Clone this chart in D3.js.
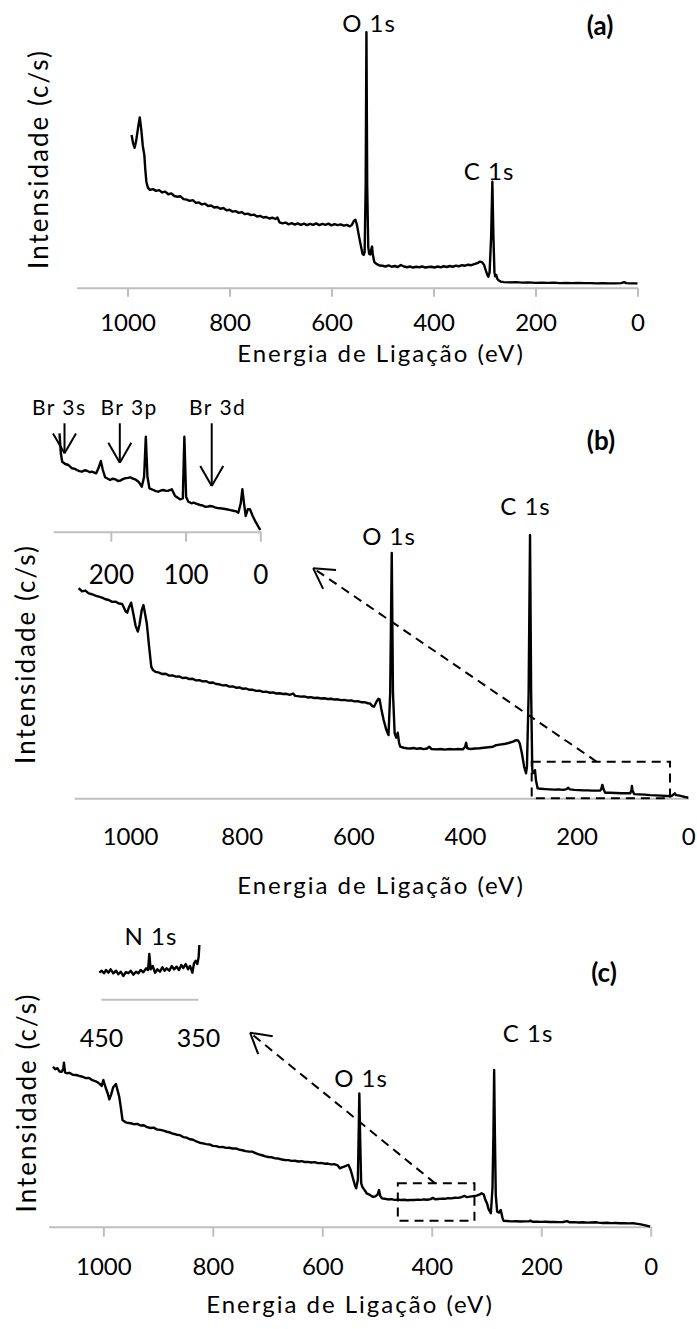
<!DOCTYPE html>
<html>
<head>
<meta charset="utf-8">
<script src="https://cdn.jsdelivr.net/npm/d3@7"></script>
<style>
  body { margin: 0; background: #fff; }
  svg { display: block; font-family: Lato, "Open Sans", sans-serif; }
</style>
</head>
<body>
<svg id="chart" width="697" height="1329"></svg>
<script>
// ---- data (binding energy eV, intensity in arbitrary c/s units) ----
const xTicks = [1000, 800, 600, 400, 200, 0];
const insetTicksB = [200, 100, 0];
const insetTicksC = [450, 350];

const spectrumA = [
  [992, 59.8], [989, 56.5], [986, 54.8], [983, 57.5], [979, 63], [976, 66.7], [973, 62], [970, 55.5],
  [967, 52], [965, 46], [963, 41.5], [960, 39.2], [956, 38.3], [950, 38.6], [944, 37.9], [938, 38.2],
  [932, 37.3], [926, 37.6], [920, 36.6], [914, 36.9], [908, 35.9], [902, 35.6], [896, 35.8], [890, 34.7],
  [884, 34.5], [878, 34.0], [872, 34.3], [866, 33.2], [860, 33.4], [854, 32.6], [848, 32.9], [842, 32.0],
  [836, 32.2], [830, 31.4], [824, 31.6], [818, 30.9], [812, 31.2], [806, 30.3], [800, 30.5], [794, 29.8],
  [788, 30.0], [782, 29.3], [776, 29.6], [770, 28.8], [764, 29.0], [758, 28.4], [752, 28.6], [746, 27.9],
  [740, 28.1], [734, 27.5], [728, 27.7], [722, 27.1], [716, 27.4], [710, 26.9], [706, 27.5], [702, 25.6],
  [696, 25.2], [690, 25.5], [684, 24.8], [678, 25.3], [672, 24.7], [666, 25.2], [660, 24.6], [654, 25.1],
  [648, 24.5], [642, 25.0], [636, 24.6], [630, 25.2], [624, 24.5], [618, 25.0], [612, 24.6], [606, 25.1],
  [600, 24.4], [594, 24.9], [588, 24.5], [582, 24.8], [576, 24.3], [570, 24.6], [564, 24.0], [560, 24.6],
  [556, 26.2], [553, 26.6], [550, 24.5], [546, 20], [542, 16], [539, 13.2], [537, 12.8], [535, 14],
  [533, 40], [531.5, 100], [530, 40], [528, 16], [526, 13.2], [524, 13], [522, 15], [520.5, 16.1],
  [519, 13], [516, 10], [512, 9.3], [506, 8.7], [500, 8.6], [494, 8.3], [488, 8.7], [482, 8.2],
  [476, 8.5], [470, 8.1], [464, 8.9], [458, 8.3], [452, 8.0], [446, 8.3], [440, 7.9], [434, 8.2],
  [428, 8.0], [422, 8.3], [416, 7.9], [410, 8.1], [404, 8.2], [398, 7.9], [392, 8.3], [386, 8.0],
  [380, 8.4], [374, 8.1], [368, 8.5], [362, 8.2], [356, 8.6], [350, 8.4], [344, 8.8], [338, 8.6],
  [332, 9.0], [326, 8.8], [320, 9.2], [314, 9.6], [309, 10.2], [305, 10.0], [301, 9.0], [297, 6.5],
  [294, 4.8], [292.5, 4.3], [290, 6], [287, 20], [284.6, 41.5], [282.5, 20], [280.5, 6], [279, 4.5],
  [277, 5.0], [275, 3.5], [272, 2.8], [268, 2.4], [262, 2.2], [250, 2.1], [238, 2.2], [226, 2.0],
  [214, 2.1], [200, 1.9], [188, 2.0], [176, 1.9], [164, 2.0], [152, 1.8], [140, 1.9], [128, 1.8],
  [116, 1.9], [104, 1.8], [92, 1.8], [80, 1.7], [68, 1.8], [56, 1.7], [44, 1.7], [32, 1.8],
  [26, 2.2], [22, 1.8], [12, 1.7], [2, 1.7], [0, 1.6]
];

const spectrumB = [
  [1092, 79.8], [1086, 78.6], [1080, 78.9], [1074, 77.8], [1068, 77.5], [1062, 77.0], [1056, 76.6], [1050, 76.2],
  [1044, 75.6], [1038, 75.3], [1032, 74.6], [1026, 74.7], [1020, 74.0], [1014, 73.8], [1008, 71.0], [1005, 70.5],
  [1002, 72.5], [998, 74.3], [994, 70], [990, 65.5], [986, 63.3], [983, 66], [979, 71.5], [976, 73.4],
  [973, 70], [970, 66.5], [966, 58], [962, 50], [959, 48.7], [954, 48.0], [948, 47.7], [942, 47.2],
  [936, 47.3], [930, 46.6], [924, 46.7], [918, 46.2], [912, 46.3], [906, 45.7], [900, 45.8], [894, 45.3],
  [888, 45.4], [882, 44.8], [876, 44.9], [870, 44.4], [864, 44.5], [858, 43.9], [852, 44.0], [846, 43.4],
  [840, 43.3], [834, 42.9], [828, 43.0], [822, 42.4], [816, 42.5], [810, 42.0], [804, 42.1], [798, 41.6],
  [792, 41.7], [786, 41.2], [780, 41.2], [774, 40.8], [768, 40.9], [762, 40.4], [756, 40.5], [750, 40.1],
  [744, 40.2], [738, 39.8], [732, 39.9], [726, 39.6], [720, 39.7], [714, 39.3], [708, 39.8], [704, 38.9],
  [700, 38.8], [694, 38.6], [688, 38.7], [682, 38.3], [676, 38.4], [670, 38.1], [664, 38.2], [658, 37.9],
  [652, 38.0], [646, 37.7], [640, 37.8], [634, 37.5], [628, 37.6], [622, 37.3], [616, 37.4], [610, 37.1],
  [604, 37.2], [598, 36.8], [592, 36.9], [586, 36.5], [580, 36.5], [574, 36.1], [570, 36.0], [566, 35.0],
  [563, 34.8], [559, 36.5], [555, 37.8], [553, 37.6], [550, 34], [546, 30], [541, 26], [537, 24.0],
  [534, 40], [531.2, 93.2], [529, 40], [526, 24.7], [523, 23], [520.5, 24.9], [518, 21], [516, 19.6],
  [510, 19.2], [504, 19.0], [498, 18.9], [492, 19.1], [486, 18.8], [480, 19.0], [474, 18.7], [468, 18.9],
  [464, 19.6], [460, 18.7], [452, 18.6], [444, 18.7], [436, 18.5], [428, 18.7], [420, 18.6], [412, 18.7],
  [404, 18.6], [400, 19.5], [398, 21.1], [396, 19.0], [390, 18.7], [382, 18.9], [374, 19.0], [366, 19.2],
  [358, 19.4], [350, 19.6], [344, 20.2], [338, 20.4], [330, 20.6], [322, 21.0], [314, 21.5], [308, 22.1],
  [305, 22.0], [302, 20.9], [298, 17], [294, 12], [290.7, 9.5], [289, 12], [286, 40], [283.5, 100],
  [281.5, 40], [279.5, 11], [278.5, 9.5], [276, 9.8], [274.6, 10.7], [273, 7], [270, 3.8], [264, 3.6],
  [256, 3.5], [248, 3.4], [240, 3.3], [232, 3.4], [224, 3.2], [218, 3.5], [215, 4.0], [212, 3.4],
  [204, 3.2], [196, 3.1], [188, 3.0], [180, 3.0], [172, 2.9], [164, 2.9], [158, 2.9], [156, 3.5],
  [154, 5.1], [152, 3.5], [149, 2.1], [140, 2.1], [130, 2.0], [120, 1.9], [110, 1.9], [104, 1.9],
  [102, 3.0], [101, 4.7], [100, 3.0], [97, 1.6], [88, 1.5], [78, 1.4], [68, 1.2], [58, 1.1],
  [48, 1.0], [39, 0.9], [30, 0.9], [26, 1.5], [24, 1.9], [22, 1.2], [18, 1.1], [12, 0.8],
  [6, 0.5], [3, 0.4], [0, 0.2]
];

const spectrumC = [
  [1092, 102.1], [1088, 100.5], [1084, 101.2], [1080, 99.0], [1076, 98.9], [1073, 101], [1072, 104.7], [1070, 98.5],
  [1067, 97.9], [1062, 98.2], [1056, 97.0], [1050, 96.8], [1044, 96.2], [1038, 95.7], [1032, 94.8], [1026, 94.9],
  [1020, 93.5], [1014, 92.8], [1010, 92.0], [1006, 91.0], [1003, 89.8], [1000, 93.6], [996, 89], [992, 85],
  [989, 81.3], [986, 84], [982, 89], [977, 91.1], [974, 87], [971, 83.0], [968, 76], [965, 68.1],
  [960, 66.8], [957, 66.4], [950, 66.0], [944, 65.4], [938, 65.6], [932, 64.6], [926, 64.7], [920, 63.5],
  [914, 63.0], [908, 63.2], [902, 62.0], [896, 61.8], [890, 61.3], [884, 60.6], [878, 60.1], [872, 59.3],
  [866, 58.7], [860, 58.4], [854, 57.2], [848, 56.8], [842, 55.8], [836, 55.5], [830, 54.4], [824, 53.6],
  [818, 53.2], [812, 52.7], [806, 52.5], [800, 51.6], [794, 51.4], [788, 50.8], [782, 50.9], [776, 50.3],
  [770, 50.4], [764, 49.9], [758, 50.0], [752, 49.2], [746, 48.8], [740, 48.2], [734, 47.9], [728, 47.9],
  [722, 47.0], [716, 46.2], [710, 45.6], [704, 44.9], [698, 44.5], [692, 44.3], [686, 43.6], [680, 43.5],
  [674, 42.9], [668, 42.6], [662, 42.5], [656, 42.0], [650, 42.1], [644, 41.6], [638, 41.8], [632, 41.3],
  [626, 41.4], [620, 41.0], [614, 41.2], [608, 40.6], [602, 40.7], [596, 40.2], [590, 40.3], [584, 39.8],
  [578, 39.9], [572, 39.2], [568, 37.3], [564, 37.8], [560, 38.3], [556, 38.9], [552, 39.4], [548, 36],
  [544, 31], [540, 26], [538, 24.5], [535, 30], [533.5, 60], [532.3, 85.1], [531, 60], [529, 28],
  [527, 25.5], [524, 24], [521, 22.5], [519, 21.3], [514, 20.5], [510, 19.5], [507, 19.1], [503, 19.4],
  [499, 20.5], [496.4, 23.4], [494, 19.5], [491, 18.1], [486, 17.8], [480, 17.4], [474, 17.6], [468, 17.1],
  [462, 17.3], [456, 17.0], [450, 17.2], [444, 16.9], [438, 17.1], [432, 17.0], [426, 17.3], [420, 17.1],
  [414, 17.4], [408, 17.2], [402, 17.6], [398, 18.4], [394, 17.5], [388, 17.7], [382, 17.9], [376, 17.8],
  [370, 18.2], [364, 18.1], [358, 18.5], [352, 18.4], [346, 18.8], [340, 19.6], [336, 18.9], [330, 19.2],
  [324, 19.5], [318, 19.8], [312, 20.6], [309, 21.3], [305, 20.5], [302, 17], [299, 14.9], [296, 11],
  [292, 8.6], [289, 25], [287.3, 60], [286, 100], [284.7, 60], [283, 20], [280.5, 9.6], [277, 9.0],
  [274, 10.7], [271, 6], [269, 3.8], [262, 3.6], [254, 3.4], [246, 3.5], [238, 3.3], [230, 3.4],
  [222, 3.5], [220, 3.9], [216, 3.2], [208, 3.2], [200, 3.1], [192, 3.2], [184, 3.0], [176, 3.1],
  [168, 2.9], [160, 3.0], [153, 3.6], [148, 2.8], [140, 2.9], [132, 2.7], [124, 2.8], [116, 2.6],
  [108, 2.7], [100, 2.8], [96, 2.6], [88, 2.4], [80, 2.5], [72, 2.3], [64, 2.4], [56, 2.2],
  [48, 2.3], [40, 2.1], [32, 2.2], [24, 1.8], [18, 1.5], [12, 1.0], [6, 0.5], [1.3, 0]
];

// zoomed Br region of (b), own intensity scale
const insetSpectrumB = [
  [268.7, 98.4], [266.9, 78.4], [265.1, 70], [261, 67.7], [256.7, 66.7], [252, 63.4], [248, 62.8], [245.5, 61.7],
  [242, 60.6], [238.8, 60], [235, 61.4], [232, 61], [228, 59.5], [225.4, 60], [219.6, 58.4], [216.6, 63.4],
  [213.4, 70.7], [210.7, 61.7], [207.6, 54.4], [201, 51.7], [198, 52.9], [194, 52.4], [190, 50.6], [187.6, 51],
  [184, 52.6], [181, 53.4], [177, 53.8], [174, 54.4], [171, 53.2], [167.5, 52.4], [163, 50], [158.6, 45],
  [155.5, 55], [153.2, 95], [151, 55], [148.4, 43.4], [143, 41.7], [140, 40.6], [136.4, 40], [133, 41.2],
  [129.7, 41.7], [126, 40.8], [123, 41], [118.4, 42.4], [114, 35.7], [107.4, 32.4], [103.7, 33.4], [101.6, 95],
  [99.3, 35], [96.3, 30], [92, 28.4], [89.6, 29], [85, 27.8], [80.6, 26.7], [77, 26.2], [74, 25],
  [70, 25.1], [67.2, 25.7], [64, 25.3], [60.6, 24.4], [57, 23.6], [53.9, 23.4], [49, 23], [45, 22.4],
  [40, 21.6], [36.1, 21], [32, 20.3], [29.4, 19], [26.2, 28.4], [24, 42.4], [21.8, 28.4], [19.5, 15.7],
  [16.8, 22.4], [13.8, 22.4], [10.2, 15.7], [5.7, 9], [0, 1.7]
];

// zoomed N 1s region of (c), own intensity scale
const insetSpectrumC = [
  [451.7, 26.6], [449.3, 28.6], [446.9, 26.0], [444.8, 29.3], [442.4, 26.6], [440.0, 30.0], [437.3, 26.0], [434.5, 28.6],
  [432.1, 25.0], [429.7, 27.6], [427.0, 23.3], [424.2, 27.3], [421.8, 26.0], [419.4, 28.6], [416.7, 24.6], [413.9, 27.6],
  [411.5, 26.0], [409.1, 29.3], [406.4, 27.0], [403.6, 31.0], [401.5, 29.3], [400.2, 45.3], [398.8, 30.0], [396.7, 33.3],
  [394.3, 26.6], [391.9, 30.0], [389.2, 27.6], [386.8, 32.0], [384.4, 28.6], [382.3, 31.0], [379.6, 28.6], [377.1, 33.3],
  [374.7, 30.0], [372.0, 32.6], [369.6, 29.3], [367.2, 34.3], [365.1, 31.3], [362.7, 35.3], [360.3, 30.0], [358.2, 33.3],
  [355.8, 26.6], [354.1, 36.0], [352.4, 38.6], [350.7, 35.3], [349.3, 42.6], [348.6, 54.3]
];

// annotation labels: [text, energy, intensity]
const labelsA = [["O 1s", 526.5, 100.1], ["C 1s", 291, 42.2]];
const labelsB = [["O 1s", 536, 96.2], ["C 1s", 291.6, 107.6]];
const labelsC = [["O 1s", 529.2, 89.1], ["C 1s", 224.1, 117.9]];
const panelTags = ["(a)", "(b)", "(c)"];
const panelTagPos = [[73.5, 98.9], [156.4, 132.3], [85.3, 156.1]];

const brNames = ["Br 3s", "Br 3p", "Br 3d"];
const brLabelE = [269, 175.5, 57];
const brArrowE = [262, 188, 65];
const brArrowTipI = [78.4, 69, 45.7];
const brArrowTopI = 108.4;
const brLabelI = 116.7;

// dashed zoom boxes [E high, E low, I low, I high] and pointer arrows [from, to]
const boxB = [280.5, 32.8, 0, 13.9];
const pointerB = [[164, 13.9], [672, 87.4]];
const boxC = [462, 322, 3.8, 27.7];
const pointerC = [[394, 27.7], [732, 123.8]];

// ---- drawing ----
const svg = d3.select("#chart");
svg.append("rect").attr("width", 697).attr("height", 1329).attr("fill", "#fff");

const axisGrey = "#bfbfbf";

function drawAxis(x, y0, ticks, tickLen, labelOff, size) {
  const g = svg.append("g")
    .attr("transform", `translate(0,${y0})`)
    .call(d3.axisBottom(x).tickValues(ticks).tickSizeInner(tickLen).tickSizeOuter(0).tickFormat(d3.format("d")))
    .attr("font-family", null)
    .attr("font-size", null);
  g.select(".domain").attr("stroke", axisGrey).attr("stroke-width", 2);
  g.selectAll(".tick line").attr("stroke", axisGrey).attr("stroke-width", 2);
  g.selectAll(".tick text")
    .attr("y", labelOff)
    .attr("dy", "0.35em")
    .attr("fill", "#000")
    .style("font-size", size + "px");
}

function drawLine(data, x, y) {
  svg.append("path")
    .datum(data)
    .attr("d", d3.line().x(d => x(d[0])).y(d => y(d[1])))
    .attr("fill", "none")
    .attr("stroke", "#000")
    .attr("stroke-width", 2.4)
    .attr("stroke-linejoin", "round");
}

function addText(t, px, py, size, opts = {}) {
  const el = svg.append("text")
    .attr("x", px).attr("y", py)
    .attr("text-anchor", "middle")
    .style("font-size", size + "px")
    .style("letter-spacing", (opts.spacing || 0) + "px")
    .style("font-weight", opts.bold ? "bold" : "normal")
    .text(t);
  if (opts.rotate) el.attr("transform", `rotate(-90,${px},${py})`);
  return el;
}

function arrow(x1, y1, x2, y2, dashed) {
  const g = svg.append("g").attr("stroke", "#000").attr("stroke-width", 2).attr("fill", "none");
  g.append("line").attr("x1", x1).attr("y1", y1).attr("x2", x2).attr("y2", y2)
    .attr("stroke-dasharray", dashed ? "9,6" : null);
  const ang = Math.atan2(y1 - y2, x1 - x2);
  [-1, 1].forEach(s => {
    const a = ang + s * Math.PI / 6;
    g.append("line").attr("x1", x2).attr("y1", y2)
      .attr("x2", x2 + 23 * Math.cos(a)).attr("y2", y2 + 23 * Math.sin(a));
  });
}

function dashedBox(b, x, y) {
  svg.append("rect")
    .attr("x", x(b[0])).attr("y", y(b[3]))
    .attr("width", x(b[1]) - x(b[0])).attr("height", y(b[2]) - y(b[3]))
    .attr("fill", "none").attr("stroke", "#000").attr("stroke-width", 2)
    .attr("stroke-dasharray", "9,6");
}

const panels = [
  {data: spectrumA, labels: labelsA, xr: [76.5, 637.5], axisY: 287.7, topY: 32.3, tickLen: 9, labelOff: 35.3,
   yLab: [48.4, 159], xLab: [381, 362]},
  {data: spectrumB, labels: labelsB, xr: [74.2, 688.3], axisY: 798.3, topY: 535, tickLen: 0, labelOff: 38.4,
   yLab: [35.4, 654], xLab: [381, 894]},
  {data: spectrumC, labels: labelsC, xr: [48.6, 650.7], axisY: 1226.7, topY: 1070, tickLen: 10, labelOff: 40,
   yLab: [36.4, 1102.5], xLab: [350, 1313]}
];

const scales = panels.map((p, i) => {
  const x = d3.scaleLinear().domain([1100, 0]).range(p.xr);
  const y = d3.scaleLinear().domain([0, 100]).range([p.axisY, p.topY]);
  drawAxis(x, p.axisY, xTicks, p.tickLen, p.labelOff, 24);
  drawLine(p.data, x, y);
  p.labels.forEach(([t, e, v]) => addText(t, x(e), y(v), 24, {spacing: 1}));
  addText(panelTags[i], x(panelTagPos[i][0]), y(panelTagPos[i][1]), 26, {bold: true});
  addText("Intensidade (c/s)", p.yLab[0], p.yLab[1], 26, {rotate: true, spacing: 2});
  addText("Energia de Ligação (eV)", p.xLab[0], p.xLab[1], 24, {spacing: 2});
  return {x, y};
});

// inset of (b): Br region
const xib = d3.scaleLinear().domain([277, 0]).range([53.3, 260.3]);
const yib = d3.scaleLinear().domain([0, 100]).range([531.7, 431.7]);
drawAxis(xib, 531.7, insetTicksB, 10, 43.3, 26);
drawLine(insetSpectrumB, xib, yib);
brNames.forEach((n, i) => {
  addText(n, xib(brLabelE[i]), yib(brLabelI), 21, {spacing: 1.5});
  arrow(xib(brArrowE[i]), yib(brArrowTopI), xib(brArrowE[i]), yib(brArrowTipI[i]), false);
});

// inset of (c): N 1s region
const xic = d3.scaleLinear().domain([450, 350]).range([101, 198]);
const yic = d3.scaleLinear().domain([0, 100]).range([999.3, 899.3]);
drawAxis(xic, 999.3, insetTicksC, 0, 38.7, 25);
drawLine(insetSpectrumC, xic, yic);
addText("N 1s", xic(398.5), yic(54.3), 24, {spacing: 1});

// zoom boxes and pointers
const sb = scales[1], sc = scales[2];
dashedBox(boxB, sb.x, sb.y);
arrow(sb.x(pointerB[0][0]), sb.y(pointerB[0][1]), sb.x(pointerB[1][0]), sb.y(pointerB[1][1]), true);
dashedBox(boxC, sc.x, sc.y);
arrow(sc.x(pointerC[0][0]), sc.y(pointerC[0][1]), sc.x(pointerC[1][0]), sc.y(pointerC[1][1]), true);
</script>
</body>
</html>
